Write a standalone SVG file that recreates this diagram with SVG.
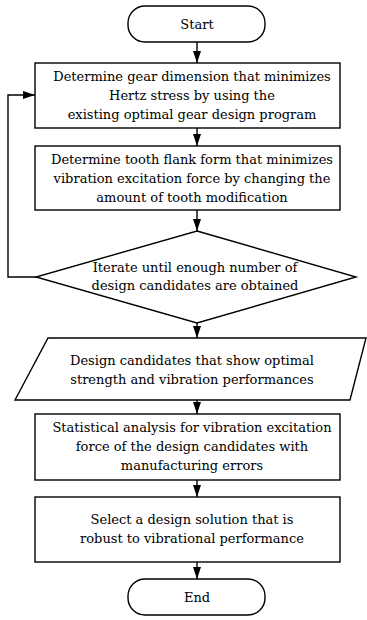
<svg xmlns="http://www.w3.org/2000/svg" width="367" height="620" viewBox="0 0 367 620">
<style>
  .shape { fill: #ffffff; stroke: #000000; stroke-width: 1.4; }
  .lbl { font-family: "DejaVu Serif", "Liberation Serif", serif; font-size: 13px; fill: #000000; text-anchor: middle; }
  .conn { fill: none; stroke: #000000; stroke-width: 1.4; }
</style>
<defs>
  <marker id="arrow" viewBox="0 0 12 8" refX="12" refY="4" markerWidth="12" markerHeight="8" markerUnits="userSpaceOnUse" orient="auto">
    <path d="M0,0 L12,4 L0,8 z" fill="#000000"/>
  </marker>
</defs>
<rect width="367" height="620" fill="#ffffff"/>

<g id="connectors">
  <line class="conn" x1="197" y1="42" x2="197" y2="63" marker-end="url(#arrow)"/>
  <line class="conn" x1="197" y1="128" x2="197" y2="146" marker-end="url(#arrow)"/>
  <line class="conn" x1="197" y1="210" x2="197" y2="231" marker-end="url(#arrow)"/>
  <line class="conn" x1="197" y1="323" x2="197" y2="338" marker-end="url(#arrow)"/>
  <line class="conn" x1="197" y1="400" x2="197" y2="414" marker-end="url(#arrow)"/>
  <line class="conn" x1="197" y1="480" x2="197" y2="497" marker-end="url(#arrow)"/>
  <line class="conn" x1="197" y1="562" x2="197" y2="579" marker-end="url(#arrow)"/>
  <polyline class="conn" points="36,277 8,277 8,95 35,95" marker-end="url(#arrow)"/>
</g>

<g id="start">
  <rect class="shape" x="128" y="6" width="137" height="36" rx="17" ry="17"/>
  <text class="lbl" x="197" y="29">Start</text>
</g>

<g id="box1">
  <rect class="shape" x="35" y="63" width="305" height="65"/>
  <text class="lbl" x="192" y="81">Determine gear dimension that minimizes</text>
  <text class="lbl" x="192" y="100">Hertz stress by using the</text>
  <text class="lbl" x="192" y="119">existing optimal gear design program</text>
</g>

<g id="box2">
  <rect class="shape" x="35" y="146" width="305" height="64"/>
  <text class="lbl" x="192" y="164">Determine tooth flank form that minimizes</text>
  <text class="lbl" x="192" y="183">vibration excitation force by changing the</text>
  <text class="lbl" x="192" y="202">amount of tooth modification</text>
</g>

<g id="decision">
  <polygon class="shape" points="197,231 356,277 197,323 36,277"/>
  <text class="lbl" x="195" y="272">Iterate until enough number of</text>
  <text class="lbl" x="195" y="290">design candidates are obtained</text>
</g>

<g id="candidates">
  <polygon class="shape" points="48,338 366,338 350,400 15,400"/>
  <text class="lbl" x="192" y="365">Design candidates that show optimal</text>
  <text class="lbl" x="192" y="384">strength and vibration performances</text>
</g>

<g id="analysis">
  <rect class="shape" x="35" y="414" width="305" height="66"/>
  <text class="lbl" x="192" y="432">Statistical analysis for vibration excitation</text>
  <text class="lbl" x="192" y="451">force of the design candidates with</text>
  <text class="lbl" x="192" y="470">manufacturing errors</text>
</g>

<g id="select">
  <rect class="shape" x="35" y="497" width="305" height="65"/>
  <text class="lbl" x="192" y="524">Select a design solution that is</text>
  <text class="lbl" x="192" y="543">robust to vibrational performance</text>
</g>

<g id="end">
  <rect class="shape" x="128" y="579" width="137" height="36" rx="17" ry="17"/>
  <text class="lbl" x="197" y="602">End</text>
</g>
</svg>
